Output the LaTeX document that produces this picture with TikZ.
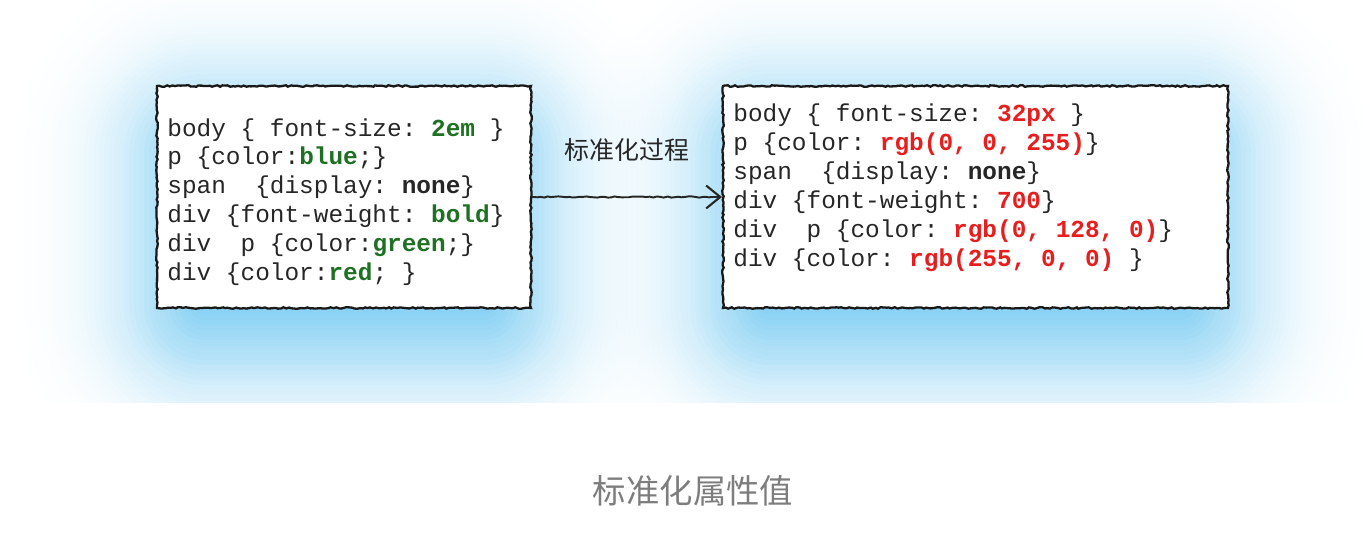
\documentclass[tikz,border=0pt]{standalone}
\usepackage{fontspec}
\usepackage{xcolor}
\usepackage{tikz}
\usetikzlibrary{arrows.meta,decorations.pathmorphing}

\newfontfamily\codefont{Liberation Mono}
\newfontfamily\cjkfont{Noto Sans CJK SC}

\definecolor{codegreen}{RGB}{30,112,34}
\definecolor{codered}{RGB}{232,30,30}
\definecolor{glowblue}{RGB}{100,195,240}
\definecolor{captiongray}{RGB}{125,125,125}

\newcommand{\gval}[1]{\textbf{\color{codegreen}#1}}
\newcommand{\rval}[1]{\textbf{\color{codered}#1}}

\begin{document}
\begin{tikzpicture}[
    x=0.02cm, y=-0.02cm,
    frame/.style={draw=black!90, fill=white, line width=1.3pt, decorate,
        decoration={random steps, segment length=1.5pt, amplitude=0.45pt},
        minimum height=4.44cm, inner sep=0pt},
    code/.style={anchor=west, align=left, inner sep=0pt, text=black!85,
        font=\codefont\fontsize{13.9pt}{16.45pt}\selectfont\frenchspacing},
    glow/.style={fill=glowblue},
    note/.style={font=\cjkfont\fontsize{14.2pt}{16pt}\selectfont, text=black!85},
    caption/.style={font=\cjkfont\fontsize{19pt}{22pt}\selectfont, text=captiongray},
    link/.style={line width=1.1pt, draw=black!85, decorate,
        decoration={random steps, segment length=2pt, amplitude=0.35pt, pre length=1pt, post length=6pt},
        -{Straight Barb[length=8pt, width=13pt, line width=1.2pt]}}
]
\useasboundingbox (0,0) rectangle (1370,546);

% soft blue halo behind both boxes
\begin{scope}
\clip (0,0) rectangle (1370,403);
\foreach \xa/\ya/\xb/\yb in {157/86/531/308, 723/86/1228/308} {
  \foreach \k in {-12,...,30} {
    \pgfmathsetmacro\e{5*\k}
    \pgfmathsetmacro\la{-ln(1-0.95/(1+exp((\e-5)/34)))}
    \pgfmathsetmacro\lb{-ln(1-0.95/(1+exp(\e/34)))}
    \pgfmathsetmacro\op{1-exp(\lb-\la)}
    \pgfmathsetmacro\rc{max(\e+50,2)*0.02}
    \fill[glow, fill opacity=\op, rounded corners=\rc cm]
      (\xa-3-\e,\ya+18-\e) rectangle (\xb+3+\e,\yb+47+\e);
  }
}
\end{scope}

\node[frame, minimum width=7.48cm] (src) at (344,197) {};
\node[frame, minimum width=10.1cm] (dst) at (975.5,197) {};

\node[code] (srccode) at (167,202) {%
body \{ font-size: \gval{2em} \}\\
p \{color:\gval{blue};\}\\
span\ \ \{display: \textbf{none}\}\\
div \{font-weight: \gval{bold}\}\\
div\ \ p \{color:\gval{green};\}\\
div \{color:\gval{red}; \}};

\node[code] (dstcode) at (733,188) {%
body \{ font-size: \rval{32px} \}\\
p \{color: \rval{rgb(0, 0, 255)}\}\\
span\ \ \{display: \textbf{none}\}\\
div \{font-weight: \rval{700}\}\\
div\ \ p \{color: \rval{rgb(0, 128, 0)}\}\\
div \{color: \rval{rgb(255, 0, 0)} \}};

\draw[link] (src.east) -- (dst.west);
\node[note] (step) at (627,150) {标准化过程};

\node[caption] (title) at (693,491) {标准化属性值};
\end{tikzpicture}
\end{document}
